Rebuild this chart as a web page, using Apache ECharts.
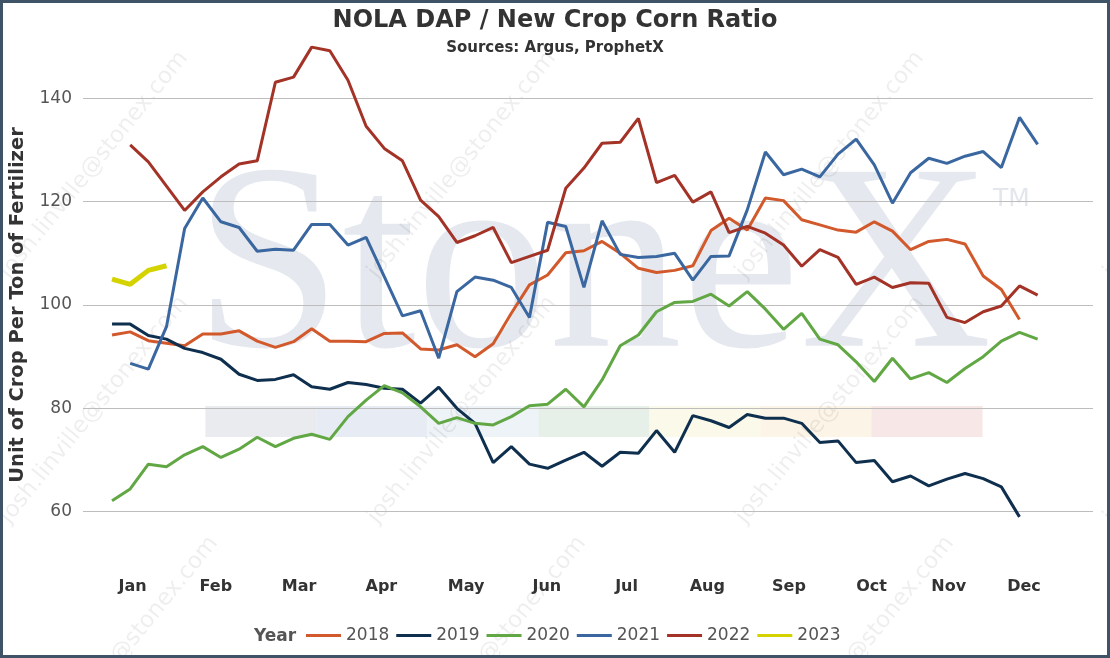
<!DOCTYPE html>
<html>
<head>
<meta charset="utf-8">
<title>NOLA DAP / New Crop Corn Ratio</title>
<script src="https://cdn.jsdelivr.net/npm/echarts@6/dist/echarts.min.js"></script>
<style>
  html, body { margin: 0; padding: 0; background: #fff; }
  #main { width: 1110px; height: 658px; }
</style>
</head>
<body>
<div id="main"></div>
<script>
// month labels sit at these week positions (week 0 = first week of Jan)
var monthNames = ['Jan', 'Feb', 'Mar', 'Apr', 'May', 'Jun', 'Jul', 'Aug', 'Sep', 'Oct', 'Nov', 'Dec'];
var monthPos = [1.13, 5.72, 10.31, 14.84, 19.51, 23.96, 28.35, 32.8, 37.3, 41.85, 46.1, 50.25];

var yTicks = [60, 80, 100, 120, 140];
var years = ['2018', '2019', '2020', '2021', '2022', '2023'];
var colors = ['#D2592B', '#0F2F4E', '#61A744', '#3A67A0', '#A33227', '#D4D300'];

// weekly ratio, one value per week (null = no data)
var y2018 = [94.2, 94.8, 93.1, 92.6, 92.1, 94.4, 94.4, 95.0, 93.0, 91.8, 92.9, 95.4, 93.0, 93.0, 92.9, 94.5, 94.6, 91.5, 91.3, 92.3,
             90.0, 92.5, 98.4, 103.9, 105.8, 110.1, 110.5, 112.3, 110.0, 107.1, 106.3, 106.7, 107.6, 114.4, 116.8, 114.5, 120.7, 120.2, 116.5, 115.5,
             114.5, 114.1, 116.1, 114.3, 110.7, 112.3, 112.7, 111.8, 105.6, 103.0, 97.2, null];
var y2019 = [96.3, 96.3, 94.1, 93.4, 91.6, 90.8, 89.5, 86.6, 85.4, 85.6, 86.5, 84.2, 83.7, 85.0, 84.6, 83.9, 83.7, 81.0, 84.1, 80.0,
             77.1, 69.5, 72.6, 69.2, 68.4, 70.0, 71.5, 68.8, 71.5, 71.3, 75.7, 71.5, 78.6, 77.6, 76.3, 78.8, 78.1, 78.1, 77.1, 73.4,
             73.7, 69.5, 69.9, 65.8, 66.9, 65.0, 66.3, 67.4, 66.4, 64.8, 59.0, null];
var y2020 = [62.1, 64.4, 69.2, 68.7, 71.0, 72.6, 70.5, 72.1, 74.4, 72.6, 74.2, 75.0, 74.0, 78.4, 81.6, 84.4, 83.0, 80.3, 77.1, 78.2,
             77.1, 76.8, 78.4, 80.5, 80.8, 83.7, 80.3, 85.5, 92.1, 94.2, 98.7, 100.5, 100.7, 102.1, 99.8, 102.6, 99.2, 95.3, 98.4, 93.4,
             92.3, 89.0, 85.2, 89.7, 85.7, 86.9, 85.0, 87.7, 90.0, 93.0, 94.7, 93.4];
var y2021 = [null, 88.7, 87.6, 95.8, 114.8, 120.7, 116.1, 115.0, 110.4, 110.8, 110.6, 115.6, 115.6, 111.6, 113.1, 105.5, 97.9, 98.9, 89.7, 102.6,
             105.4, 104.8, 103.4, 97.6, 116.0, 115.2, 103.4, 116.3, 109.8, 109.2, 109.4, 110.0, 104.8, 109.4, 109.5, 118.4, 129.6, 125.2, 126.3, 124.8,
             129.2, 132.1, 127.1, 119.7, 125.6, 128.4, 127.4, 128.8, 129.7, 126.6, 136.3, 131.1];
var y2022 = [null, 131.0, 127.7, 123.0, 118.3, 121.9, 124.8, 127.3, 127.9, 143.1, 144.1, 149.9, 149.2, 143.5, 134.6, 130.3, 127.9, 120.3, 117.1, 112.1,
             113.4, 115.0, 108.2, 109.4, 110.6, 122.6, 126.5, 131.3, 131.5, 136.1, 123.7, 125.1, 119.9, 121.9, 114.0, 115.2, 113.9, 111.6, 107.5, 110.7,
             109.2, 104.0, 105.4, 103.4, 104.3, 104.2, 97.6, 96.6, 98.7, 99.8, 103.7, 101.9];
var y2023 = [105.0, 104.0, 106.7, 107.6];

var allYears = [y2018, y2019, y2020, y2021, y2022, y2023];

// StoneX logo band colours (watermark)
var bandColors = ['#E9EBEF', '#E7ECF4', '#EEF3F8', '#E7EFE9', '#FAF9EA', '#FCF4E6', '#F8E7E7'];

var chart = echarts.init(document.getElementById('main'));

function toPoints(vals) {
    var pts = [];
    vals.forEach(function (v, i) {
        if (v !== null) pts.push([i, v]);
    });
    return pts;
}

var series = years.map(function (name, k) {
    return {
        name: name,
        type: 'line',
        data: toPoints(allYears[k]),
        symbol: 'none',
        clip: false,
        z: 3 + k,
        lineStyle: { width: name === '2023' ? 5 : 3, color: colors[k] },
        itemStyle: { color: colors[k] }
    };
});

// background watermark
var graphics = [];
bandColors.forEach(function (c, i) {
    graphics.push({
        type: 'rect', z: -10, silent: true,
        shape: { x: 205.4 + i * 111, y: 406, width: 111.2, height: 31 },
        style: { fill: c }
    });
});
graphics.push({
    type: 'text', z: -10, silent: true, x: 194, y: 276,
    style: { text: 'StoneX', fill: '#E5E9EF', font: '266px "Liberation Serif"', verticalAlign: 'middle', align: 'left' }
});
graphics.push({
    type: 'text', z: -10, silent: true, x: 993, y: 199,
    style: { text: 'TM', fill: '#E3E6EB', font: '25px "DejaVu Sans"', verticalAlign: 'middle', align: 'left' }
});
var wmRows = [165, 410, 650];
var wmCols = [94, 462, 830, 1198];
wmRows.forEach(function (wy, r) {
    wmCols.forEach(function (wx) {
        graphics.push({
            type: 'text', z: -9, silent: true, x: wx + (r === 2 ? 30 : 0), y: wy, rotation: 51 * Math.PI / 180,
            style: { text: 'josh.linville@stonex.com', fill: 'rgba(0,0,0,0.065)', font: '23px "DejaVu Sans"', align: 'center', verticalAlign: 'middle' }
        });
    });
});
// legend title
graphics.push({
    type: 'text', x: 254, y: 637,
    style: { text: 'Year', fill: '#555', font: 'bold 17px "DejaVu Sans"', verticalAlign: 'middle' }
});
// outer frame
graphics.push({
    type: 'rect', silent: true, z: 100,
    shape: { x: 1.5, y: 1.5, width: 1107, height: 655 },
    style: { fill: 'none', stroke: '#3E5466', lineWidth: 3 }
});

var option = {
    backgroundColor: '#fff',
    animation: false,
    title: {
        text: 'NOLA DAP / New Crop Corn Ratio',
        subtext: 'Sources: Argus, ProphetX',
        left: 'center',
        top: 4,
        itemGap: 8,
        textStyle: { fontFamily: 'DejaVu Sans', fontWeight: 'bold', fontSize: 24, color: '#333' },
        subtextStyle: { fontFamily: 'DejaVu Sans', fontWeight: 'bold', fontSize: 15, color: '#333' }
    },
    legend: {
        data: years,
        left: 306,
        top: 627,
        padding: 0,
        itemWidth: 35,
        itemHeight: 3,
        itemGap: 7,
        icon: 'rect',
        textStyle: { fontFamily: 'DejaVu Sans', fontSize: 17, color: '#555' }
    },
    grid: { left: 83, right: 17, top: 98.3, bottom: 146.3 },
    xAxis: {
        type: 'value',
        min: -1.6,
        max: 54.05,
        axisLine: { show: false },
        axisTick: { show: false },
        splitLine: { show: false },
        axisLabel: {
            customValues: monthPos,
            margin: 67,
            fontFamily: 'DejaVu Sans',
            fontWeight: 'bold',
            fontSize: 16,
            color: '#333',
            formatter: function (v) {
                var idx = monthPos.indexOf(v);
                return idx >= 0 ? monthNames[idx] : '';
            }
        }
    },
    yAxis: {
        type: 'value',
        min: yTicks[0],
        max: yTicks[yTicks.length - 1],
        interval: 20,
        name: 'Unit of Crop Per Ton of Fertilizer',
        nameLocation: 'middle',
        nameGap: 55,
        nameTextStyle: { fontFamily: 'DejaVu Sans', fontWeight: 'bold', fontSize: 19.5, color: '#333' },
        axisLine: { show: false },
        axisTick: { show: false },
        axisLabel: { margin: 11, fontFamily: 'DejaVu Sans', fontSize: 17, color: '#555' },
        splitLine: { lineStyle: { color: '#BDBDBD', width: 1 } }
    },
    graphic: graphics,
    series: series
};

chart.setOption(option);
</script>
</body>
</html>
